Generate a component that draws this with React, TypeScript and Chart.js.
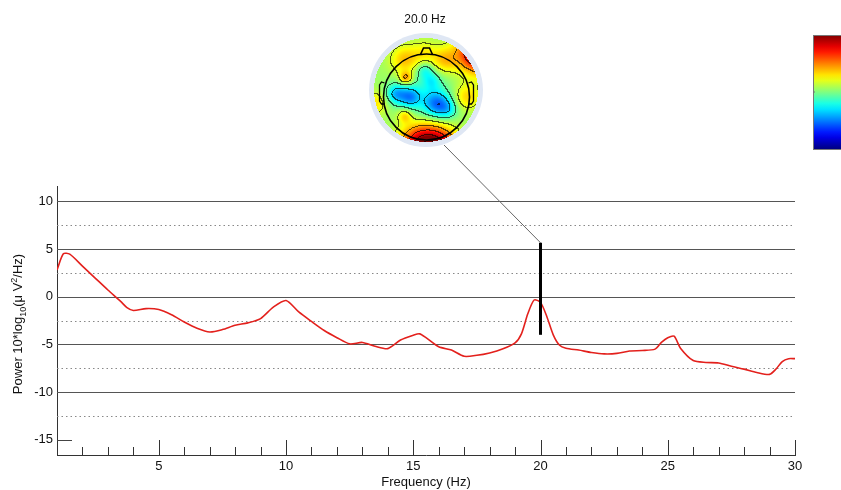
import React, { useEffect, useRef } from "react";
import { Chart, registerables } from "chart.js";
Chart.register(...registerables);

// ---- Spectrum data ----
const freqs = [1, 1.25, 1.5, 2, 2.5, 3, 3.5, 3.75, 4, 4.5, 5, 5.5, 6, 6.5, 7, 7.5, 8, 8.5, 9, 9.5, 10, 10.5, 11, 11.5, 12, 12.5, 13, 13.5, 14, 14.5, 15, 15.25, 15.5, 16, 16.5, 17, 17.5, 18, 18.5, 19, 19.25, 19.5, 19.75, 20, 20.25, 20.5, 20.75, 21, 21.5, 22, 22.5, 23, 23.5, 24, 24.5, 24.75, 25, 25.25, 25.5, 26, 26.5, 27, 27.5, 28, 28.5, 29, 29.25, 29.5, 29.75, 30];
const power = [2.8, 4.5, 4.45, 3.2, 1.95, 0.7, -0.5, -1.15, -1.45, -1.25, -1.35, -1.9, -2.65, -3.3, -3.7, -3.45, -3.0, -2.75, -2.3, -1.1, -0.4, -1.6, -2.6, -3.55, -4.3, -4.95, -4.8, -5.2, -5.45, -4.55, -4.05, -3.9, -4.3, -5.25, -5.6, -6.25, -6.15, -5.9, -5.5, -4.85, -3.9, -1.8, -0.35, -0.6, -2.1, -4.0, -5.1, -5.4, -5.6, -5.85, -6.0, -5.95, -5.7, -5.65, -5.5, -4.8, -4.3, -4.15, -5.4, -6.7, -6.9, -6.95, -7.3, -7.6, -7.95, -8.15, -7.6, -6.8, -6.5, -6.5];

const yTickValues = [-15, -12.5, -10, -7.5, -5, -2.5, 0, 2.5, 5, 7.5, 10];
const xLabelValues = [5, 10, 15, 20, 25, 30];
const xMinorTicks = [2, 3, 4, 5, 6, 7, 8, 9, 10, 11, 12, 13, 14, 15, 16, 17, 18, 19, 20, 21, 22, 23, 24, 25, 26, 27, 28, 29, 30];
const markerFreq = 20;
const markerLow = -4.0;
const markerHigh = 5.65;
const topoTitle = "20.0 Hz";
const xTitle = "Frequency (Hz)";

// ---- Topography sources (pixel position in map, amplitude, spread) ----
const srcX = [422, 441, 479, 396, 410, 437, 448, 425, 425, 432, 405, 445, 425, 406, 467, 405, 376];
const srcY = [146, 147, 52, 94, 97, 104, 109, 98, 70, 81, 60, 60, 54, 78, 97, 116, 103];
const srcAmp = [0.46, 0.3, 0.52, -0.2, -0.2, -0.22, -0.12, -0.1, -0.12, -0.1, 0.16, 0.15, 0.1, 0.2, 0.14, 0.14, 0.12];
const srcSigma = [15, 13, 14, 7, 7, 9, 7, 18, 6, 6, 10, 9, 9, 4.5, 9, 5, 8];
const topoBase = 0.53;

const TOPO_CX = 426;
const TOPO_CY = 90;
const TOPO_R = 52;

function clamp01(v: number) {
  return Math.max(0, Math.min(1, v));
}
function jet(v: number): [number, number, number] {
  const t = clamp01(v);
  const r = clamp01(1.5 - Math.abs(4 * t - 3));
  const g = clamp01(1.5 - Math.abs(4 * t - 2));
  const b = clamp01(1.5 - Math.abs(4 * t - 1));
  return [Math.round(r * 255), Math.round(g * 255), Math.round(b * 255)];
}

function fieldAt(px: number, py: number) {
  let v = topoBase;
  for (let i = 0; i < srcX.length; i++) {
    const dx = px - srcX[i];
    const dy = py - srcY[i];
    v += srcAmp[i] * Math.exp(-(dx * dx + dy * dy) / (2 * srcSigma[i] * srcSigma[i]));
  }
  return v;
}

function makeTopoCanvas() {
  const size = TOPO_R * 2 + 2;
  const c = document.createElement("canvas");
  c.width = size;
  c.height = size;
  const cx = c.getContext("2d")!;
  const img = cx.createImageData(size, size);
  const ox = TOPO_CX - TOPO_R - 1;
  const oy = TOPO_CY - TOPO_R - 1;
  const vals: number[] = new Array(size * size);
  for (let j = 0; j < size; j++) {
    for (let i = 0; i < size; i++) {
      vals[j * size + i] = fieldAt(ox + i + 0.5, oy + j + 0.5);
    }
  }
  const levels = 8;
  for (let j = 0; j < size; j++) {
    for (let i = 0; i < size; i++) {
      const idx = j * size + i;
      const dx = i + 0.5 - size / 2;
      const dy = j + 0.5 - size / 2;
      const d = Math.sqrt(dx * dx + dy * dy);
      const p = idx * 4;
      if (d > TOPO_R) {
        img.data[p + 3] = 0;
        continue;
      }
      const v = vals[idx];
      let [r, g, b] = jet(v);
      const lv = Math.floor(v * levels + 0.3);
      const rv = i + 1 < size ? Math.floor(vals[idx + 1] * levels + 0.3) : lv;
      const bv = j + 1 < size ? Math.floor(vals[idx + size] * levels + 0.3) : lv;
      if (lv !== rv || lv !== bv) {
        r = Math.round(r * 0.35);
        g = Math.round(g * 0.35);
        b = Math.round(b * 0.35);
      }
      img.data[p] = r;
      img.data[p + 1] = g;
      img.data[p + 2] = b;
      img.data[p + 3] = 255;
    }
  }
  cx.putImageData(img, 0, 0);
  return { canvas: c, ox, oy };
}

const FONT = "'Liberation Sans', Arial, sans-serif";
const NARROW = "'Liberation Sans Narrow', 'Liberation Sans', Arial, sans-serif";

const decorPlugin = {
  id: "decor",
  beforeDatasetsDraw(chart: any) {
    const { ctx, chartArea, scales } = chart;
    const ys = scales.y;
    const xs = scales.x;
    ctx.save();
    for (const v of yTickValues) {
      const py = Math.round(ys.getPixelForValue(v)) + 0.5;
      if (v === -15) {
        ctx.setLineDash([]);
        ctx.strokeStyle = "#444";
        ctx.lineWidth = 1;
        ctx.beginPath();
        ctx.moveTo(chartArea.left, py);
        ctx.lineTo(chartArea.left + 15, py);
        ctx.stroke();
      } else if (v % 5 === 0) {
        ctx.setLineDash([]);
        ctx.strokeStyle = "#555";
        ctx.lineWidth = 1;
        ctx.beginPath();
        ctx.moveTo(chartArea.left, py);
        ctx.lineTo(chartArea.right, py);
        ctx.stroke();
      } else {
        ctx.setLineDash([1.5, 3]);
        ctx.strokeStyle = "#888";
        ctx.lineWidth = 1;
        ctx.beginPath();
        ctx.moveTo(chartArea.left, py);
        ctx.lineTo(chartArea.right, py);
        ctx.stroke();
      }
    }
    ctx.setLineDash([]);
    ctx.strokeStyle = "#333";
    ctx.lineWidth = 1;
    for (const f of xMinorTicks) {
      const px = Math.round(xs.getPixelForValue(f)) + 0.5;
      const len = f % 5 === 0 ? 15 : 8;
      ctx.beginPath();
      ctx.moveTo(px, chartArea.bottom);
      ctx.lineTo(px, chartArea.bottom - len);
      ctx.stroke();
    }
    ctx.restore();
  },
  afterDraw(chart: any) {
    const { ctx, scales } = chart;
    const ys = scales.y;
    const xs = scales.x;
    const mx = xs.getPixelForValue(markerFreq);
    const mTop = ys.getPixelForValue(markerHigh);
    const mBot = ys.getPixelForValue(markerLow);
    ctx.save();
    // connector
    ctx.strokeStyle = "#666";
    ctx.lineWidth = 1;
    ctx.beginPath();
    ctx.moveTo(444, 145);
    ctx.lineTo(mx, mTop);
    ctx.stroke();
    // marker
    ctx.strokeStyle = "#000";
    ctx.lineWidth = 3;
    ctx.beginPath();
    ctx.moveTo(mx, mTop);
    ctx.lineTo(mx, mBot);
    ctx.stroke();

    // halo
    ctx.fillStyle = "#dfe7f4";
    ctx.beginPath();
    ctx.arc(TOPO_CX, TOPO_CY, TOPO_R + 5, 0, Math.PI * 2);
    ctx.fill();
    // map
    const topo = (chart as any)._topo || ((chart as any)._topo = makeTopoCanvas());
    ctx.drawImage(topo.canvas, topo.ox, topo.oy);

    // head outline
    const hx = 426.5;
    const hy = 97;
    const hr = 43;
    ctx.strokeStyle = "#000";
    ctx.lineWidth = 1.6;
    ctx.beginPath();
    ctx.arc(hx, hy, hr, 0, Math.PI * 2);
    ctx.stroke();
    // nose
    ctx.beginPath();
    ctx.moveTo(hx - 6, hy - hr + 0.5);
    ctx.lineTo(hx - 3, hy - hr - 6);
    ctx.lineTo(hx + 3, hy - hr - 6);
    ctx.lineTo(hx + 6, hy - hr + 0.5);
    ctx.stroke();
    // ears
    ctx.lineWidth = 1.3;
    for (const side of [-1, 1]) {
      const ex = hx + side * (hr - 1);
      ctx.beginPath();
      ctx.moveTo(ex, 83);
      ctx.lineTo(ex + side * 3, 82);
      ctx.lineTo(ex + side * 5, 85);
      ctx.lineTo(ex + side * 5, 101);
      ctx.lineTo(ex + side * 3, 104);
      ctx.lineTo(ex, 104);
      ctx.stroke();
    }

    // title
    ctx.fillStyle = "#111";
    ctx.font = `12px ${FONT}`;
    ctx.textAlign = "center";
    ctx.textBaseline = "middle";
    ctx.fillText(topoTitle, 425, 20);

    // colorbar
    const cbx = 813;
    const cby = 35;
    const cbw = 30;
    const cbh = 114;
    const grad = ctx.createLinearGradient(0, cby, 0, cby + cbh);
    for (let k = 0; k <= 20; k++) {
      const t = k / 20;
      const [r, g, b] = jet(1 - t);
      grad.addColorStop(t, `rgb(${r},${g},${b})`);
    }
    ctx.fillStyle = grad;
    ctx.fillRect(cbx, cby, cbw, cbh);
    ctx.strokeStyle = "#777";
    ctx.lineWidth = 1;
    ctx.strokeRect(cbx + 0.5, cby + 0.5, cbw, cbh);
    ctx.beginPath();
    ctx.moveTo(cbx, cby + cbh / 2);
    ctx.lineTo(cbx + 2, cby + cbh / 2);
    ctx.stroke();

    // y-axis title with sub/superscript
    const parts: [string, number, number][] = [
      ["Power 10*log", 13, 0],
      ["10", 9, 4],
      ["(\u03bc V", 13, 0],
      ["2", 9, -5],
      ["/Hz)", 13, 0],
    ];
    let total = 0;
    for (const [s, sz] of parts) {
      ctx.font = `${sz}px ${FONT}`;
      total += ctx.measureText(s).width;
    }
    ctx.save();
    ctx.translate(17, 324);
    ctx.rotate(-Math.PI / 2);
    ctx.textAlign = "left";
    ctx.textBaseline = "alphabetic";
    ctx.fillStyle = "#111";
    let cx = -total / 2;
    for (const [s, sz, off] of parts) {
      ctx.font = `${sz}px ${FONT}`;
      ctx.fillText(s, cx, 5 + off);
      cx += ctx.measureText(s).width;
    }
    ctx.restore();
    ctx.restore();
  },
};

export default function App() {
  const ref = useRef<HTMLCanvasElement | null>(null);
  useEffect(() => {
    if (!ref.current) return;
    const chart = new Chart(ref.current, {
      type: "line",
      data: {
        datasets: [
          {
            data: freqs.map((f, i) => ({ x: f, y: power[i] })),
            borderColor: "#e3201c",
            borderWidth: 1.6,
            pointRadius: 0,
            tension: 0.25,
            fill: false,
          },
        ],
      },
      options: {
        responsive: false,
        animation: false,
        events: [],
        layout: { padding: { left: 0, right: 46, top: 186, bottom: 0 } },
        plugins: { legend: { display: false }, tooltip: { enabled: false } },
        scales: {
          x: {
            type: "linear",
            min: 1,
            max: 30,
            grid: { display: false, drawTicks: false },
            border: { display: true, color: "#333", width: 1 },
            afterBuildTicks: (s: any) => {
              s.ticks = xLabelValues.map((v) => ({ value: v }));
            },
            ticks: {
              autoSkip: false,
              maxRotation: 0,
              padding: 4,
              color: "#111",
              font: { family: NARROW, size: 13 },
              callback: (v: any) => String(v),
            },
            title: {
              display: true,
              text: xTitle,
              color: "#111",
              font: { family: NARROW, size: 13 },
              padding: { top: 0, bottom: 0 },
            },
            afterFit: (s: any) => {
              s.height = 35;
            },
          },
          y: {
            type: "linear",
            min: -16.6,
            max: 11.6,
            grid: { display: false, drawTicks: false },
            border: { display: true, color: "#333", width: 1 },
            afterBuildTicks: (s: any) => {
              s.ticks = yTickValues.map((v) => ({ value: v }));
            },
            ticks: {
              autoSkip: false,
              padding: 4,
              color: "#111",
              font: { family: FONT, size: 13 },
              callback: (v: any) => (Number(v) % 5 === 0 ? String(v) : ""),
            },
            afterFit: (s: any) => {
              s.width = 57;
            },
          },
        },
      },
      plugins: [decorPlugin],
    });
    return () => chart.destroy();
  }, []);
  return (
    <div style={{ position: "absolute", left: 0, top: 0, width: 841, height: 490, background: "#fff" }}>
      <canvas ref={ref} width={841} height={490} />
    </div>
  );
}
